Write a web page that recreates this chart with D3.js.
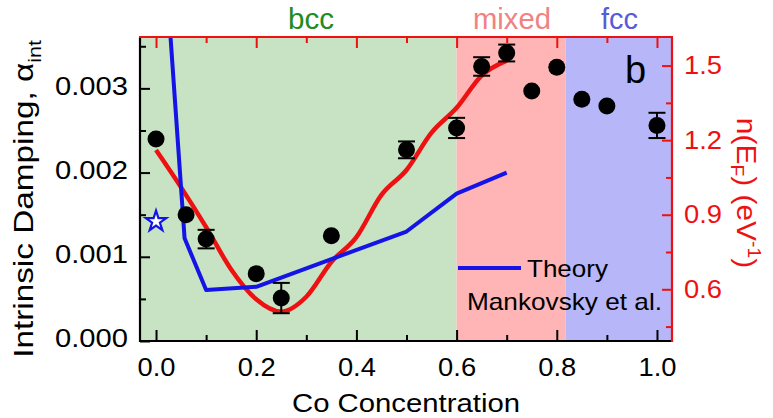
<!DOCTYPE html>
<html><head><meta charset="utf-8">
<script src="https://cdn.jsdelivr.net/npm/d3@7"></script>
<style>
html,body{margin:0;padding:0;background:#fff;}
svg{display:block;font-family:"Liberation Sans",Arial,Helvetica,sans-serif;}
</style></head><body>
<svg id="chart" width="773" height="418"></svg>
<script>
// ---- data ----
const coConc     = [0, 0.06, 0.1, 0.2, 0.25, 0.35, 0.5, 0.6, 0.65, 0.7, 0.75, 0.8, 0.85, 0.9, 1.0];
const damping    = [0.00240, 0.00150, 0.00121, 0.00080, 0.00051, 0.00125, 0.00227, 0.00253, 0.00326, 0.00342, 0.00297, 0.00325, 0.00287, 0.00279, 0.00256];
const dampingErr = [0, 0, 0.00011, 0, 0.00018, 0, 0.00010, 0.00012, 0.00011, 0.00010, 0, 0, 0, 0, 0.00015];
const theoryCo      = [0.02, 0.057, 0.1, 0.2, 0.5, 0.6, 0.7];
const theoryDamping = [0.00437, 0.00122, 0.000605, 0.000644, 0.00130, 0.00175, 0.00200];
const dosCo     = [0, 0.05, 0.1, 0.15, 0.2, 0.25, 0.3, 0.35, 0.4, 0.45, 0.5, 0.55, 0.6, 0.65, 0.7];
const dosValues = [1.16, 1.01, 0.85, 0.68, 0.56, 0.51, 0.57, 0.71, 0.81, 0.98, 1.08, 1.23, 1.33, 1.46, 1.52];
const starCo = [0];
const starDamping = [0.00142];
const phaseNames  = ["bcc", "mixed", "fcc"];
const phaseStart  = [-0.032, 0.6, 0.818];
const phaseEnd    = [0.6, 0.818, 1.03];
const xMajorTicks = [0, 0.2, 0.4, 0.6, 0.8, 1.0];
const xMinorTicks = [0.1, 0.3, 0.5, 0.7, 0.9];
const leftMajorTicks = [0, 0.001, 0.002, 0.003];
const leftMinorTicks = [0.0005, 0.0015, 0.0025, 0.0035];
const rightMajorTicks = [0.6, 0.9, 1.2, 1.5];
const rightMinorTicks = [0.45, 0.75, 1.05, 1.35];

// ---- layout ----
const L = 140, R = 672, T = 37, B = 341;
const RED = "#ee1111", BLUE = "#1414e6";
const phaseFill  = ["#c8e2c4", "#ffb5b5", "#b6b6f8"];
const phaseColor = ["#228b22", "#f08282", "#5a5ad8"];
const phaseLabelX = [288, 473, 601];
const phaseLabelW = [46, 78, 37];

const x  = d3.scaleLinear().domain([-0.032, 1.03]).range([L, R]);
const yL = d3.scaleLinear().domain([0, 0.00361]).range([B, T]);
const yR = d3.scaleLinear().domain([0.392, 1.615]).range([B, T]);

const svg = d3.select("#chart");
svg.append("defs").append("clipPath").attr("id", "clip")
  .append("rect").attr("x", L).attr("y", T).attr("width", R - L).attr("height", B - T);

// phase backgrounds
svg.selectAll("rect.phase").data(phaseNames).join("rect").attr("class", "phase")
  .attr("x", (d, i) => x(phaseStart[i]))
  .attr("width", (d, i) => x(phaseEnd[i]) - x(phaseStart[i]))
  .attr("y", T).attr("height", B - T)
  .attr("fill", (d, i) => phaseFill[i]);

// phase labels
svg.selectAll("text.phase").data(phaseNames).join("text").attr("class", "phase")
  .attr("x", (d, i) => phaseLabelX[i]).attr("y", 29)
  .attr("font-size", 29)
  .attr("textLength", (d, i) => phaseLabelW[i]).attr("lengthAdjust", "spacingAndGlyphs")
  .attr("fill", (d, i) => phaseColor[i]).text(d => d);

// lines
const gc = svg.append("g").attr("clip-path", "url(#clip)");
gc.append("path").datum(d3.zip(dosCo, dosValues))
  .attr("d", d3.line().x(d => x(d[0])).y(d => yR(d[1])).curve(d3.curveMonotoneX))
  .attr("fill", "none").attr("stroke", RED).attr("stroke-width", 4.5).attr("stroke-linejoin", "round");
gc.append("path").datum(d3.zip(theoryCo, theoryDamping))
  .attr("d", d3.line().x(d => x(d[0])).y(d => yL(d[1])))
  .attr("fill", "none").attr("stroke", BLUE).attr("stroke-width", 4).attr("stroke-linejoin", "round");

// error bars
const pts = coConc.map((c, i) => ({c, a: damping[i], e: dampingErr[i]}));
const eb = svg.append("g").attr("stroke", "#000").attr("stroke-width", 2);
pts.filter(p => p.e > 0).forEach(p => {
  eb.append("line").attr("x1", x(p.c)).attr("x2", x(p.c)).attr("y1", yL(p.a - p.e)).attr("y2", yL(p.a + p.e));
  [p.a - p.e, p.a + p.e].forEach(v => eb.append("line")
    .attr("x1", x(p.c) - 8.5).attr("x2", x(p.c) + 8.5).attr("y1", yL(v)).attr("y2", yL(v)));
});
svg.append("g").selectAll("circle").data(pts).join("circle")
  .attr("cx", d => x(d.c)).attr("cy", d => yL(d.a)).attr("r", 8.5).attr("fill", "#000");

// star
svg.append("g").selectAll("path").data(starCo).join("path")
  .attr("d", d3.symbol(d3.symbolStar, 130)())
  .attr("transform", (d, i) => `translate(${x(d)},${yL(starDamping[i])})`)
  .attr("fill", "#fff").attr("stroke", BLUE).attr("stroke-width", 2.2);

// legend
svg.append("line").attr("x1", 458).attr("x2", 521).attr("y1", 268).attr("y2", 268)
  .attr("stroke", BLUE).attr("stroke-width", 4);
svg.append("text").attr("x", 527).attr("y", 277).attr("font-size", 24)
  .attr("textLength", 81).attr("lengthAdjust", "spacingAndGlyphs").text("Theory");
svg.append("text").attr("x", 467).attr("y", 310).attr("font-size", 24)
  .attr("textLength", 195).attr("lengthAdjust", "spacingAndGlyphs").text("Mankovsky et al.");

// panel label
svg.append("text").attr("x", 625).attr("y", 83).attr("font-size", 38).text("b");

// axes
function style(g, color, w) {
  g.attr("font-family", null).attr("font-size", null);
  g.select(".domain").remove();
  g.selectAll("line").attr("stroke", color).attr("stroke-width", 2);
  g.selectAll("text").attr("fill", color).attr("font-size", 25)
    .attr("textLength", w).attr("lengthAdjust", "spacingAndGlyphs");
}
const fmt1 = d3.format(".1f"), fmt3 = d3.format(".3f");
svg.append("g").attr("transform", `translate(${L},0)`)
  .call(d3.axisLeft(yL).tickValues(leftMajorTicks).tickSize(-10).tickPadding(12).tickFormat(fmt3))
  .call(g => style(g, "#000", 73)).call(g => g.selectAll("text").attr("dy", "0.23em"));
svg.append("g").attr("transform", `translate(${L},0)`)
  .call(d3.axisLeft(yL).tickValues(leftMinorTicks).tickSize(-6).tickFormat(""))
  .call(g => style(g, "#000", null));
svg.append("g").attr("transform", `translate(0,${B})`)
  .call(d3.axisBottom(x).tickValues(xMajorTicks).tickSize(-11).tickPadding(17).tickFormat(fmt1))
  .call(g => style(g, "#000", 38));
svg.append("g").attr("transform", `translate(0,${B})`)
  .call(d3.axisBottom(x).tickValues(xMinorTicks).tickSize(-6).tickFormat(""))
  .call(g => style(g, "#000", null));
svg.append("g").attr("transform", `translate(0,${T})`)
  .call(d3.axisTop(x).tickValues(xMajorTicks).tickSize(-11).tickFormat(""))
  .call(g => style(g, RED, null));
svg.append("g").attr("transform", `translate(0,${T})`)
  .call(d3.axisTop(x).tickValues(xMinorTicks).tickSize(-6).tickFormat(""))
  .call(g => style(g, RED, null));
svg.append("g").attr("transform", `translate(${R},0)`)
  .call(d3.axisRight(yR).tickValues(rightMajorTicks).tickSize(-10).tickPadding(12).tickFormat(fmt1))
  .call(g => style(g, RED, 38));
svg.append("g").attr("transform", `translate(${R},0)`)
  .call(d3.axisRight(yR).tickValues(rightMinorTicks).tickSize(-6).tickFormat(""))
  .call(g => style(g, RED, null));
svg.selectAll("text[textLength='null']").attr("textLength", null);

// frame
svg.append("line").attr("x1", L).attr("x2", L).attr("y1", T).attr("y2", B + 1).attr("stroke", "#000").attr("stroke-width", 2.2);
svg.append("line").attr("x1", L).attr("x2", R).attr("y1", B).attr("y2", B).attr("stroke", "#000").attr("stroke-width", 2.2);
svg.append("line").attr("x1", L - 1).attr("x2", R + 1).attr("y1", T).attr("y2", T).attr("stroke", RED).attr("stroke-width", 2.2);
svg.append("line").attr("x1", R).attr("x2", R).attr("y1", T).attr("y2", B + 1).attr("stroke", RED).attr("stroke-width", 2.2);

// axis titles
svg.append("text").attr("x", (L + R) / 2).attr("y", 412).attr("text-anchor", "middle")
  .attr("font-size", 26).attr("textLength", 228).attr("lengthAdjust", "spacingAndGlyphs")
  .text("Co Concentration");

const yl = svg.append("text").attr("transform", "translate(33,199) rotate(-90) scale(1.19,1)")
  .attr("text-anchor", "middle").attr("font-size", 28);
yl.append("tspan").text("Intrinsic Damping, α");
yl.append("tspan").attr("font-size", 18).attr("dy", 8).text("int");

const rl = svg.append("text").attr("transform", "translate(737,193) rotate(90) scale(1.07,1)")
  .attr("text-anchor", "middle").attr("font-size", 28).attr("fill", RED);
rl.append("tspan").text("n(E");
rl.append("tspan").attr("font-size", 18).attr("dy", 6).text("F");
rl.append("tspan").attr("dy", -6).text(") (eV");
rl.append("tspan").attr("font-size", 18).attr("dy", -11).text("-1");
rl.append("tspan").attr("dy", 11).text(")");
</script>
</body></html>
